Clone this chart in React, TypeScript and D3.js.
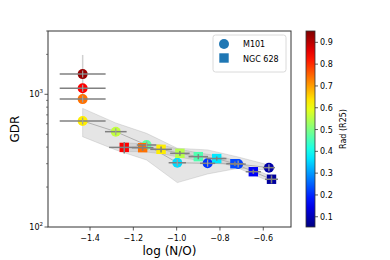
import React from 'react';
import * as d3 from 'd3';

// M101 (circles)
const m101X = [-1.434, -1.434, -1.434, -1.434, -1.281, -1.139, -0.997, -0.857, -0.716, -0.574];
const m101Y = [1420, 1110, 920, 630, 523, 415, 305, 302, 298, 280];
const m101Rad = [0.93, 0.84, 0.74, 0.63, 0.56, 0.47, 0.36, 0.21, 0.22, 0.09];
const m101XErr = [0.106, 0.106, 0.106, 0.106, 0.05, 0.045, 0.04, 0.035, 0.035, 0.028];
const m101YErr = [560, 25, 25, 20, 15, 15, 10, 10, 10, 12];

// NGC 628 (squares)
const ngcX = [-1.242, -1.157, -1.072, -0.985, -0.9, -0.815, -0.731, -0.646, -0.562];
const ngcY = [398, 396, 385, 359, 339, 328, 300, 261, 229];
const ngcRad = [0.84, 0.74, 0.63, 0.55, 0.46, 0.37, 0.23, 0.16, 0.08];
const ngcXErr = [0.07, 0.05, 0.05, 0.045, 0.045, 0.045, 0.04, 0.035, 0.03];
const ngcYErr = [40, 20, 20, 15, 15, 12, 12, 10, 16];

// binned bands
const m101BandX = [-1.434, -1.281, -1.139, -0.997, -0.857, -0.716, -0.574];
const m101BandMid = [630, 523, 415, 305, 302, 298, 280];
const m101BandHi = [783, 608, 508, 392, 381, 337, 293];
const m101BandLo = [479, 381, 320, 216, 251, 277, 269];
const ngcBandHi = [430, 425, 415, 385, 362, 345, 318, 275, 240];
const ngcBandLo = [370, 370, 357, 335, 318, 310, 285, 248, 218];

const xTicks = [-1.4, -1.2, -1.0, -0.8, -0.6];
const cbTicks = [0.1, 0.2, 0.3, 0.4, 0.5, 0.6, 0.7, 0.8, 0.9];

const W = 390;
const H = 260;
const M = { left: 48, right: 291, top: 31, bottom: 227 };
const font = 'DejaVu Sans, sans-serif';

const jet = (t: number) => {
  const c = (v: number) => Math.round(255 * Math.max(0, Math.min(1, v)));
  return `rgb(${c(1.5 - Math.abs(4 * t - 3))},${c(1.5 - Math.abs(4 * t - 2))},${c(1.5 - Math.abs(4 * t - 1))})`;
};

const App: React.FC = () => {
  const x = d3.scaleLinear().domain([-1.594, -0.472]).range([M.left, M.right]);
  const y = d3.scaleLog().domain([100, 3000]).range([M.bottom, M.top]);
  const cb = d3.scaleLinear().domain([0.053, 0.952]).range([M.bottom, M.top]);
  const color = (v: number) => jet((v - 0.053) / (0.952 - 0.053));

  const area = d3
    .area<number>()
    .x((d) => x(d))
    .y0((_, i) => y(m101BandLo[i]))
    .y1((_, i) => y(m101BandHi[i]));
  const area2 = d3
    .area<number>()
    .x((d) => x(d))
    .y0((_, i) => y(ngcBandLo[i]))
    .y1((_, i) => y(ngcBandHi[i]));
  const line1 = d3.line<number>().x((d) => x(d)).y((_, i) => y(m101BandMid[i]));
  const line2 = d3.line<number>().x((d) => x(d)).y((_, i) => y(ngcY[i]));

  const minor = [200, 300, 400, 500, 600, 700, 800, 900, 2000, 3000];
  const stops = d3.range(0, 1.0001, 0.05);
  const cbX = 306;
  const cbW = 9;

  return (
    <svg width={W} height={H} style={{ position: 'absolute', left: 0, top: 0 }} fontFamily={font}>
      <defs>
        <linearGradient id="jet" x1="0" y1="1" x2="0" y2="0">
          {stops.map((s) => (
            <stop key={s} offset={s} stopColor={jet(s)} />
          ))}
        </linearGradient>
        <clipPath id="plot">
          <rect x={M.left} y={M.top} width={M.right - M.left} height={M.bottom - M.top} />
        </clipPath>
      </defs>

      <g clipPath="url(#plot)">
        <path d={area(m101BandX) || ''} fill="#aaa" fillOpacity={0.3} stroke="#999" strokeOpacity={0.35} strokeWidth={0.8} />
        <path d={area2(ngcX) || ''} fill="#aaa" fillOpacity={0.3} stroke="#999" strokeOpacity={0.35} strokeWidth={0.8} />
        <path d={line1(m101BandX) || ''} fill="none" stroke="#aaa" strokeWidth={0.9} />
        <path d={line2(ngcX) || ''} fill="none" stroke="#aaa" strokeWidth={0.9} />

        {/* light vertical error bars (M101) */}
        {m101X.map((v, i) => (
          <line key={'mv' + i} x1={x(v)} x2={x(v)} y1={y(m101Y[i] - m101YErr[i])} y2={y(m101Y[i] + m101YErr[i])}
            stroke="#d0d0d0" strokeWidth={1.5} />
        ))}

        {m101X.map((v, i) => (
          <circle key={'mc' + i} cx={x(v)} cy={y(m101Y[i])} r={5} fill={color(m101Rad[i])} />
        ))}
        {ngcX.map((v, i) => (
          <rect key={'ns' + i} x={x(v) - 4.7} y={y(ngcY[i]) - 4.7} width={9.4} height={9.4} fill={color(ngcRad[i])} />
        ))}

        {m101X.map((v, i) => (
          <line key={'mh' + i} x1={x(v - m101XErr[i])} x2={x(v + m101XErr[i])} y1={y(m101Y[i])} y2={y(m101Y[i])}
            stroke="#808080" strokeWidth={1.5} />
        ))}
        {m101X.map((v, i) => (
          <line key={'mvd' + i} x1={x(v)} x2={x(v)} y1={y(m101Y[i]) - 3.5} y2={y(m101Y[i]) + 3.5}
            stroke="#a0a0a0" strokeWidth={1.2} />
        ))}
        {ngcX.map((v, i) => (
          <g key={'ne' + i} stroke="#808080" strokeWidth={1.5}>
            <line x1={x(v - ngcXErr[i])} x2={x(v + ngcXErr[i])} y1={y(ngcY[i])} y2={y(ngcY[i])} />
            <line x1={x(v)} x2={x(v)} y1={y(ngcY[i] - ngcYErr[i])} y2={y(ngcY[i] + ngcYErr[i])} />
          </g>
        ))}
      </g>

      {/* legend */}
      <rect x={213} y={35} width={73} height={37} rx={2.5} fill="white" fillOpacity={0.8} stroke="#d0d0d0" strokeWidth={0.8} />
      <circle cx={224} cy={44} r={5} fill="#1f77b4" />
      <rect x={219.3} y={53.3} width={9.4} height={9.4} fill="#1f77b4" />
      <text x={243} y={47} fontSize={8}>M101</text>
      <text x={243} y={62} fontSize={8}>NGC 628</text>

      {/* frame */}
      <rect x={M.left} y={M.top} width={M.right - M.left} height={M.bottom - M.top} fill="none" stroke="#333" strokeWidth={1} />

      {/* x axis */}
      {xTicks.map((t) => (
        <g key={'xt' + t}>
          <line x1={x(t)} x2={x(t)} y1={M.bottom} y2={M.bottom + 3.5} stroke="#333" strokeWidth={0.8} />
          <text x={x(t)} y={241} fontSize={8} textAnchor="middle">{'\u2212' + Math.abs(t).toFixed(1)}</text>
        </g>
      ))}
      <text x={(M.left + M.right) / 2} y={255} fontSize={12} textAnchor="middle">log (N/O)</text>

      {/* y axis */}
      {[100, 1000].map((t, i) => (
        <g key={'yt' + t}>
          <line x1={M.left - 3.5} x2={M.left} y1={y(t)} y2={y(t)} stroke="#333" strokeWidth={0.8} />
          <text x={M.left - 5} y={y(t) + 3} fontSize={8} textAnchor="end">
            10<tspan dy={-4} fontSize={5.5}>{i === 0 ? '2' : '3'}</tspan>
          </text>
        </g>
      ))}
      {minor.map((t) => (
        <line key={'ym' + t} x1={M.left - 2} x2={M.left} y1={y(t)} y2={y(t)} stroke="#333" strokeWidth={0.6} />
      ))}
      <text transform={`translate(19,129) rotate(-90)`} fontSize={12} textAnchor="middle">GDR</text>

      {/* colorbar */}
      <rect x={cbX} y={M.top} width={cbW} height={M.bottom - M.top} fill="url(#jet)" stroke="#333" strokeWidth={0.8} />
      {cbTicks.map((t) => (
        <g key={'cb' + t}>
          <line x1={cbX + cbW} x2={cbX + cbW + 3} y1={cb(t)} y2={cb(t)} stroke="#333" strokeWidth={0.8} />
          <text x={cbX + cbW + 5} y={cb(t) + 3} fontSize={8}>{t.toFixed(1)}</text>
        </g>
      ))}
      <text transform={`translate(346,129) rotate(-90)`} fontSize={8} textAnchor="middle">Rad (R25)</text>
    </svg>
  );
};

export default App;
